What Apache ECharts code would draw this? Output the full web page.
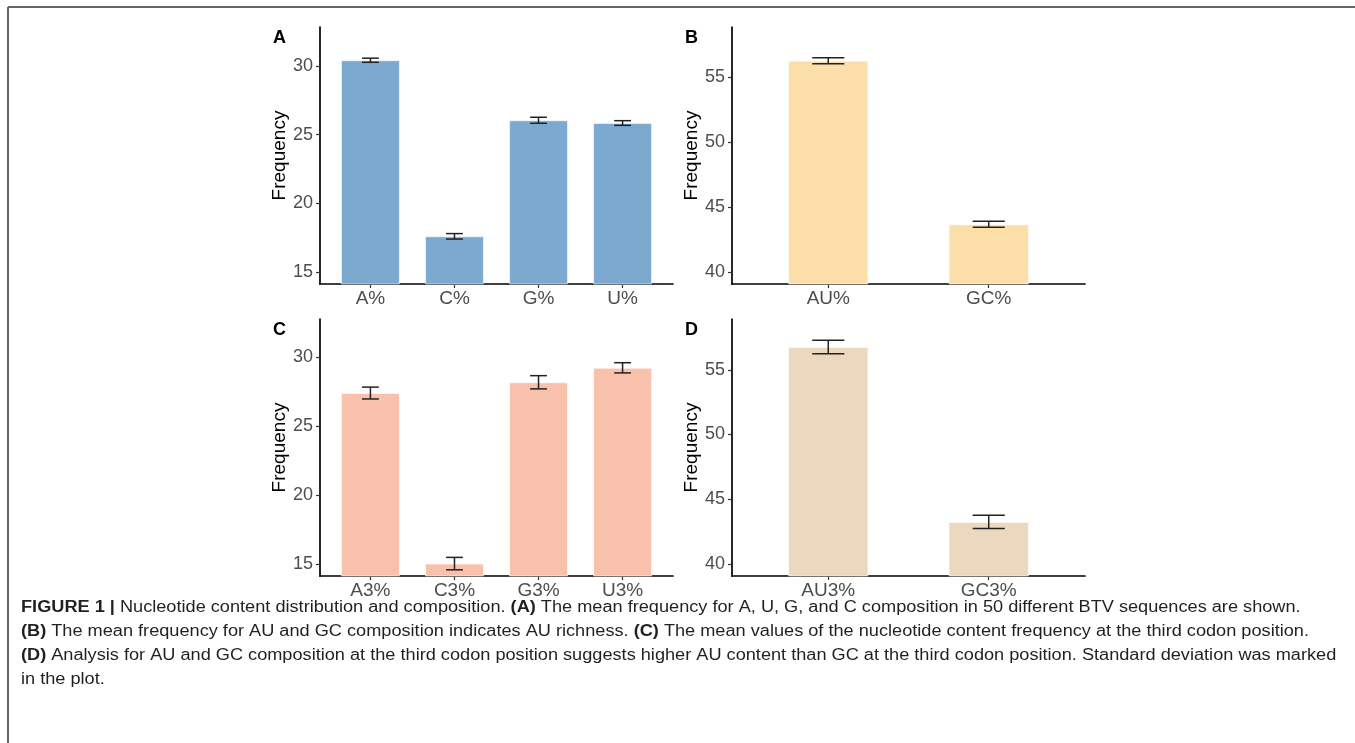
<!DOCTYPE html>
<html>
<head>
<meta charset="utf-8">
<script src="https://cdn.jsdelivr.net/npm/echarts@6/dist/echarts.min.js"></script>
<style>
html,body{margin:0;padding:0;background:#fff;}
#chart{width:1355px;height:743px;}
</style>
</head>
<body>
<div id="chart"></div>
<script>
// ---- data ----
const catsA = ['A%', 'C%', 'G%', 'U%'];
const meanA = [30.42, 17.6, 26.05, 25.85];
const sdA = [0.15, 0.2, 0.22, 0.17];

const catsB = ['AU%', 'GC%'];
const meanB = [56.28, 43.69];
const sdB = [0.23, 0.23];

const catsC = ['A3%', 'C3%', 'G3%', 'U3%'];
const meanC = [27.42, 15.05, 28.2, 29.25];
const sdC = [0.43, 0.45, 0.48, 0.37];

const catsD = ['AU3%', 'GC3%'];
const meanD = [56.76, 43.25];
const sdD = [0.52, 0.52];

const ticksAC = [15, 20, 25, 30];
const ticksBD = [40, 45, 50, 55];

const FONT = '"Liberation Sans", Arial, Helvetica, sans-serif';

const panels = [
  {letter: 'A', cats: catsA, mean: meanA, sd: sdA, ticks: ticksAC, ymin: 14.13, ymax: 32.84,
   left: 320, top: 27, color: '#7ba9d0', barFrac: 0.7},
  {letter: 'B', cats: catsB, mean: meanB, sd: sdB, ticks: ticksBD, ymin: 39.1, ymax: 58.87,
   left: 732, top: 27, color: '#fbdea8', barFrac: 0.5},
  {letter: 'C', cats: catsC, mean: meanC, sd: sdC, ticks: ticksAC, ymin: 14.15, ymax: 32.79,
   left: 320, top: 319, color: '#f9c1ab', barFrac: 0.7},
  {letter: 'D', cats: catsD, mean: meanD, sd: sdD, ticks: ticksBD, ymin: 39.07, ymax: 58.92,
   left: 732, top: 319, color: '#ebd8bf', barFrac: 0.5}
];
const GW = 353, GH = 257;

const grid = [], xAxis = [], yAxis = [], series = [], graphic = [];

panels.forEach((p, i) => {
  const n = p.cats.length;
  grid.push({left: p.left, top: p.top, width: GW, height: GH, containLabel: false});
  xAxis.push({
    type: 'value', gridIndex: i, min: 0.4, max: n + 0.6,
    splitLine: {show: false},
    axisLine: {show: true, lineStyle: {color: '#000', width: 1.7}},
    axisTick: {show: true, length: 4, lineStyle: {color: '#333', width: 1.2},
      customValues: p.cats.map((c, k) => k + 1)},
    axisLabel: {show: true, color: '#4d4d4d', fontSize: 19, fontFamily: FONT, margin: 5,
      customValues: p.cats.map((c, k) => k + 1),
      formatter: v => p.cats[Math.round(v) - 1] || ''}
  });
  yAxis.push({
    type: 'value', gridIndex: i, min: p.ymin, max: p.ymax,
    splitLine: {show: false},
    axisLine: {show: true, lineStyle: {color: '#000', width: 1.7}},
    axisTick: {show: true, length: 4, lineStyle: {color: '#333', width: 1.2}, customValues: p.ticks},
    axisLabel: {show: true, color: '#4d4d4d', fontSize: 18, fontFamily: FONT, margin: 7, customValues: p.ticks},
    name: 'Frequency', nameLocation: 'middle', nameGap: 30,
    nameTextStyle: {color: '#000', fontSize: 19, fontFamily: FONT}
  });
  const step = GW / (n + 0.2);
  series.push({
    type: 'bar', xAxisIndex: i, yAxisIndex: i,
    barWidth: step * p.barFrac,
    itemStyle: {color: p.color, borderColor: 'rgba(255,255,255,0.55)', borderWidth: 1},
    data: p.mean.map((m, k) => [k + 1, m]),
    silent: true, z: 2
  });
  series.push({
    type: 'custom', xAxisIndex: i, yAxisIndex: i,
    data: p.mean.map((m, k) => [k + 1, m, p.sd[k]]),
    z: 5, silent: true,
    renderItem: (params, api) => {
      const x = api.value(0), y = api.value(1), s = api.value(2);
      const hi = api.coord([x, y + s]);
      const lo = api.coord([x, y - s]);
      const half = api.size([0.2, 0])[0] / 2;
      const st = {stroke: '#222', lineWidth: 1.5};
      return {type: 'group', children: [
        {type: 'line', shape: {x1: hi[0], y1: hi[1], x2: lo[0], y2: lo[1]}, style: st},
        {type: 'line', shape: {x1: hi[0] - half, y1: hi[1], x2: hi[0] + half, y2: hi[1]}, style: st},
        {type: 'line', shape: {x1: lo[0] - half, y1: lo[1], x2: lo[0] + half, y2: lo[1]}, style: st}
      ]};
    }
  });
  graphic.push({type: 'text', left: p.left - 47, top: p.top + 2,
    style: {text: p.letter, fill: '#000', font: 'bold 18px ' + FONT}});
});

// frame
graphic.push({type: 'line', shape: {x1: 8, y1: 7, x2: 1355, y2: 7}, style: {stroke: '#666', lineWidth: 2}});
graphic.push({type: 'line', shape: {x1: 8, y1: 7, x2: 8, y2: 743}, style: {stroke: '#666', lineWidth: 2}});

const captionLines = [
  '{b|FIGURE 1 |} Nucleotide content distribution and composition. {b|(A)} The mean frequency for A, U, G, and C composition in 50 different BTV sequences are shown.',
  '{b|(B)} The mean frequency for AU and GC composition indicates AU richness. {b|(C)} The mean values of the nucleotide content frequency at the third codon position.',
  '{b|(D)} Analysis for AU and GC composition at the third codon position suggests higher AU content than GC at the third codon position. Standard deviation was marked',
  'in the plot.'
];

// caption (text, horizontally widened to match the reference's wide typeface)
graphic.push({
  type: 'text', x: 21, y: 596, scaleX: 1.135, scaleY: 1,
  style: {
    text: captionLines.join('\n'),
    font: '16px ' + FONT, fill: '#231f20', lineHeight: 24,
    rich: {b: {font: 'bold 16px ' + FONT, fill: '#231f20', lineHeight: 24}}
  }
});

const option = {
  animation: false,
  backgroundColor: '#fff',
  grid, xAxis, yAxis, series, graphic
};

const chart = echarts.init(document.getElementById('chart'), null, {renderer: 'canvas'});
chart.setOption(option);
</script>
</body>
</html>
